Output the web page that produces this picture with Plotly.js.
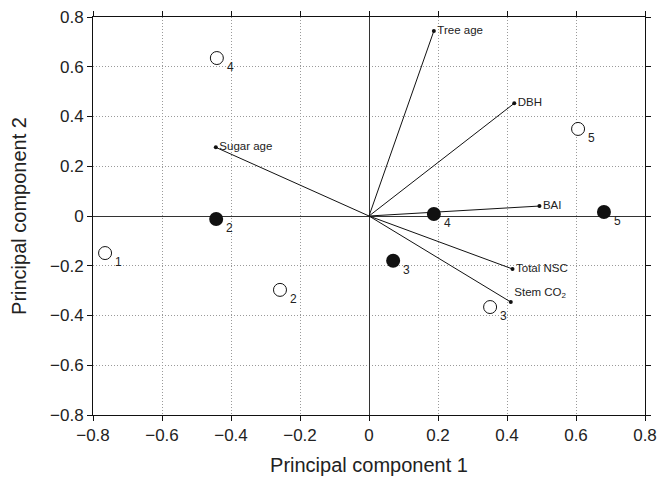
<!DOCTYPE html>
<html><head><meta charset="utf-8">
<script src="https://cdn.plot.ly/plotly-3.0.1.min.js"></script>
<style>html,body{margin:0;padding:0;background:#fff}#chart{width:658px;height:482px}</style>
</head><body><div id="chart"></div>
<script>
// Variable loadings (arrows)
const varNames = ["Tree age", "DBH", "BAI", "Sugar age", "Total NSC", "Stem CO<sub>2</sub>"];
const varPC1 = [0.188, 0.421, 0.494, -0.444, 0.416, 0.411];
const varPC2 = [0.744, 0.453, 0.040, 0.276, -0.213, -0.346];
// Open circle scores
const openLabels = ["1", "2", "3", "4", "5"];
const openPC1 = [-0.765, -0.258, 0.351, -0.441, 0.606];
const openPC2 = [-0.149, -0.297, -0.366, 0.635, 0.350];
// Filled circle scores
const fillLabels = ["2", "3", "4", "5"];
const fillPC1 = [-0.443, 0.070, 0.188, 0.681];
const fillPC2 = [-0.012, -0.180, 0.008, 0.016];
const tickVals = [-0.8, -0.6, -0.4, -0.2, 0, 0.2, 0.4, 0.6, 0.8];

const FONT = "Liberation Sans, Arial, sans-serif";
const lx = [], ly = [];
varPC1.forEach((v, i) => { lx.push(0, v, null); ly.push(0, varPC2[i], null); });
const varPos = varNames.map(n => n.startsWith("Stem") ? "top right" : "middle right");

const traces = [
  {x: lx, y: ly, mode: "lines", line: {color: "#111", width: 1}, hoverinfo: "skip", cliponaxis: false},
  {x: varPC1, y: varPC2, mode: "markers+text", text: varNames, textposition: varPos,
   marker: {color: "#111", size: 4}, textfont: {family: FONT, size: 11.5, color: "#222"}, cliponaxis: false},
  {x: openPC1, y: openPC2, mode: "markers",
   marker: {color: "#fff", size: 13, line: {color: "#111", width: 1}}, cliponaxis: false},
  {x: fillPC1, y: fillPC2, mode: "markers",
   marker: {color: "#111", size: 14}, cliponaxis: false}
];

const numFont = {family: FONT, size: 12, color: "#222"};
const annotations = [];
openLabels.forEach((t, i) => annotations.push({x: openPC1[i], y: openPC2[i], text: t, showarrow: false,
  xanchor: "left", yanchor: "middle", xshift: 8, yshift: -9, font: numFont}));
fillLabels.forEach((t, i) => annotations.push({x: fillPC1[i], y: fillPC2[i], text: t, showarrow: false,
  xanchor: "left", yanchor: "middle", xshift: 8, yshift: -9, font: numFont}));

const axisCommon = {
  range: [-0.8, 0.8], tickvals: tickVals, ticks: "outside", ticklen: 5, tickwidth: 1, tickcolor: "#111",
  showline: true, linecolor: "#111", linewidth: 1, mirror: "ticks",
  showgrid: true, gridcolor: "#9a9a9a", griddash: "1px,2px", gridwidth: 1,
  zeroline: true, zerolinecolor: "#333", zerolinewidth: 1,
  tickfont: {family: FONT, size: 17, color: "#222"}, automargin: false
};

const layout = {
  width: 658, height: 482, showlegend: false,
  margin: {l: 93, r: 13, t: 17, b: 67},
  paper_bgcolor: "#fff", plot_bgcolor: "#fff",
  annotations: annotations,
  xaxis: Object.assign({}, axisCommon, {title: {text: "Principal component 1", font: {family: FONT, size: 20, color: "#222"}, standoff: 13}}),
  yaxis: Object.assign({}, axisCommon, {title: {text: "Principal component 2", font: {family: FONT, size: 20, color: "#222"}, standoff: 18}})
};

Plotly.newPlot("chart", traces, layout, {staticPlot: true});
</script></body></html>
